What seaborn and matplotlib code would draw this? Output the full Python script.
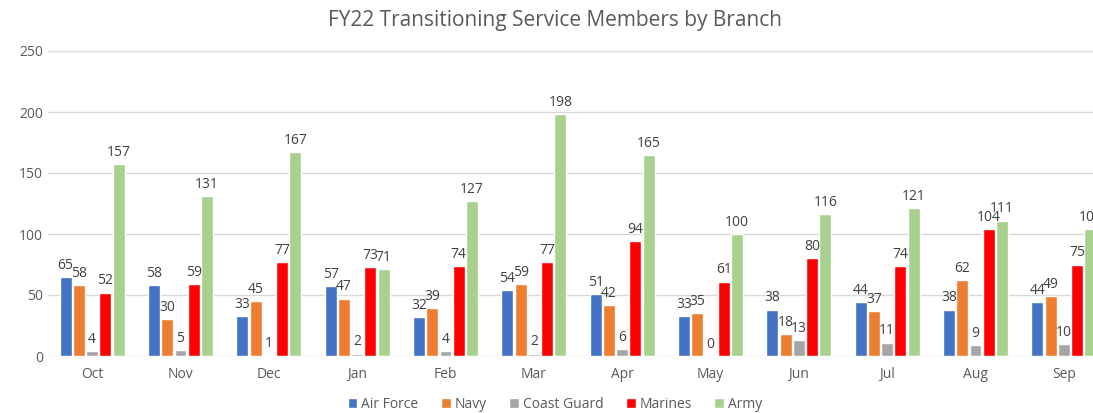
import pandas as pd
import matplotlib.pyplot as plt
import seaborn as sns

months = ["Oct", "Nov", "Dec", "Jan", "Feb", "Mar", "Apr", "May", "Jun", "Jul", "Aug", "Sep"]
air_force = [65, 58, 33, 57, 32, 54, 51, 33, 38, 44, 38, 44]
navy = [58, 30, 45, 47, 39, 59, 42, 35, 18, 37, 62, 49]
coast_guard = [4, 5, 1, 2, 4, 2, 6, 0, 13, 11, 9, 10]
marines = [52, 59, 77, 73, 74, 77, 94, 61, 80, 74, 104, 75]
army = [157, 131, 167, 71, 127, 198, 165, 100, 116, 121, 111, 104]

branches = ["Air Force", "Navy", "Coast Guard", "Marines", "Army"]
colors = ["#4472C4", "#ED7D31", "#A5A5A5", "#FF0000", "#A9D18E"]

# tabla larga para seaborn
rows = []
for b, vals in zip(branches, [air_force, navy, coast_guard, marines, army]):
    for m, v in zip(months, vals):
        rows.append({"month": m, "branch": b, "count": v})
df = pd.DataFrame(rows)

sns.set_style("white")
plt.rcParams["font.family"] = ["Open Sans", "DejaVu Sans"]

fig = plt.figure(figsize=(10.93, 4.13), dpi=100)
ax = fig.add_axes([48 / 1093, 57 / 413, 1060 / 1093, 305 / 413])

sns.barplot(data=df, x="month", y="count", hue="branch", order=months,
            hue_order=branches, palette=colors, width=0.75, gap=0.1,
            saturation=1, ax=ax, legend=True)

for c in ax.containers:
    ax.bar_label(c, padding=3, fontsize=10, color="#404040")

ax.set_ylim(0, 250)
ax.set_xlim(-0.5, 11.5)
ax.set_yticks(range(0, 251, 50))
ax.yaxis.grid(True, color="#D9D9D9", linewidth=1)
ax.set_axisbelow(True)
for s in ax.spines.values():
    s.set_visible(False)
ax.tick_params(axis="both", length=0, labelsize=10, colors="#595959")
ax.tick_params(axis="x", pad=8)
ax.set_xlabel("")
ax.set_ylabel("")

fig.suptitle("FY22 Transitioning Service Members by Branch", x=555 / 1093, y=0.975,
             fontsize=15, color="#595959")

handles, labels = ax.get_legend_handles_labels()
ax.legend(handles, labels, loc="center", bbox_to_anchor=(555 / 1093, 9 / 413),
          bbox_transform=fig.transFigure, ncol=5, frameon=False, fontsize=10,
          handlelength=0.7, handleheight=0.7, handletextpad=0.3, columnspacing=1.6,
          labelcolor="#595959")

fig.savefig("out.png", dpi=100)
